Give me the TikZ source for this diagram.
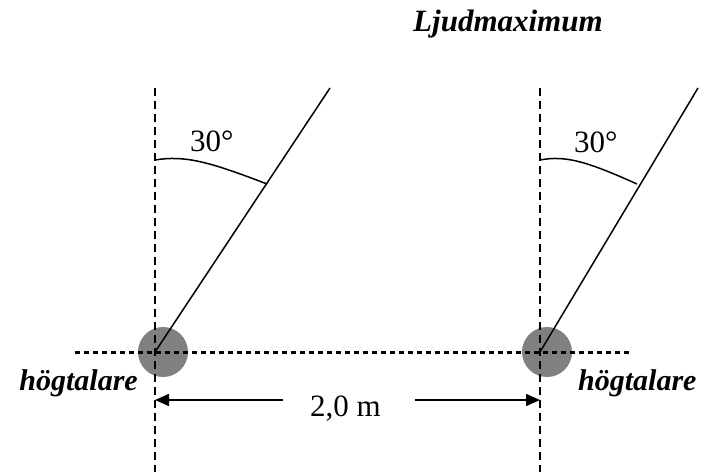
\documentclass[tikz,border=0pt]{standalone}
\usepackage{fontspec}
\setmainfont{Liberation Serif}
\usepackage{xcolor}
\definecolor{speakerGray}{HTML}{808080}
\usetikzlibrary{arrows.meta}

\begin{document}
\begin{tikzpicture}[x=1pt, y=-1pt, font=\fontsize{31}{36}\selectfont]
  \useasboundingbox (0,0) rectangle (701,472);
  \node[circle, fill=speakerGray, minimum size=50pt, inner sep=0pt] (spkL) at (163,352) {};
  \node[circle, fill=speakerGray, minimum size=50pt, inner sep=0pt] (spkR) at (547,352) {};
  \coordinate (oL) at (155,352);
  \coordinate (oR) at (540,352);
  \coordinate (topL) at (155,88);
  \coordinate (topR) at (540,88);
  \coordinate (botL) at (155,472);
  \coordinate (botR) at (540,472);
  \coordinate (rayL) at (330,88);
  \coordinate (rayR) at (698,88);
  \coordinate (dotW) at (75,352);
  \coordinate (dotE) at (632,352);
  \draw[line width=1.5pt, dash pattern=on 8pt off 5pt] (topL) -- (botL);
  \draw[line width=1.5pt, dash pattern=on 8pt off 5pt] (topR) -- (botR);
  \draw[line width=3pt, dash pattern=on 5pt off 4pt] (dotW) -- (dotE);
  \draw[line width=1.5pt] (oL) -- (rayL);
  \draw[line width=1.5pt] (oR) -- (rayR);
  \draw[line width=1.5pt] (155,160) .. controls (185,155) and (210,162) .. (267,184);
  \draw[line width=1.5pt] (540,160) .. controls (566,155) and (588,162) .. (637,184);
  \node[anchor=base west, inner sep=0pt] (angL) at (190,151) {30°};
  \node[anchor=base west, inner sep=0pt] (angR) at (574,152) {30°};
  \node[anchor=base west, inner sep=0pt, font=\fontsize{31}{36}\selectfont\bfseries\itshape] (title) at (413,31) {Ljudmaximum};
  \node[anchor=base east, inner sep=0pt, font=\fontsize{30}{36}\selectfont\bfseries\itshape] (nameL) at (138,390) {högtalare};
  \node[anchor=base west, inner sep=0pt, font=\fontsize{30}{36}\selectfont\bfseries\itshape] (nameR) at (578,390) {högtalare};
  \node[anchor=base west, inner sep=0pt] (dist) at (310,416) {2,0 m};
  \coordinate (arrL) at (155,400);
  \coordinate (gapL) at (283,400);
  \coordinate (gapR) at (415,400);
  \coordinate (arrR) at (540,400);
  \draw[line width=1.5pt, -{Triangle[length=14pt, width=12pt]}] (gapL) -- (arrL);
  \draw[line width=1.5pt, -{Triangle[length=14pt, width=12pt]}] (gapR) -- (arrR);
\end{tikzpicture}
\end{document}
